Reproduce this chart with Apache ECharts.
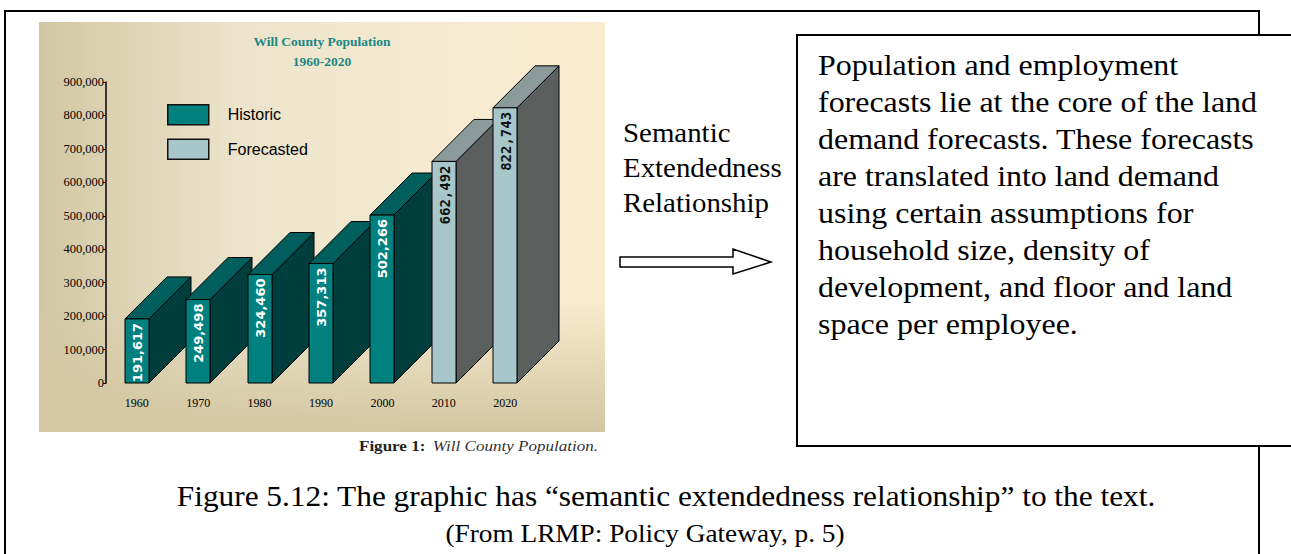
<!DOCTYPE html>
<html>
<head>
<meta charset="utf-8">
<title>Will County Population</title>
<script src="https://cdn.jsdelivr.net/npm/echarts@6/dist/echarts.min.js"></script>
<style>
  html, body { margin: 0; padding: 0; background: #ffffff; }
  #main { width: 1291px; height: 554px; }
</style>
</head>
<body>
<div id="main"></div>
<script>
// ---- data ----
const years = ['1960', '1970', '1980', '1990', '2000', '2010', '2020'];
const population = [191617, 249498, 324460, 357313, 502266, 662492, 822743];
const status = ['Historic', 'Historic', 'Historic', 'Historic', 'Historic', 'Forecasted', 'Forecasted'];
const seriesNames = ['Historic', 'Forecasted'];

const chartTitle = 'Will County Population';
const chartSubtitle = '1960-2020';
const figureLabel = 'Figure 1:';
const figureText = 'Will County Population.';
const linkLines = ['Semantic', 'Extendedness', 'Relationship'];
const bodyLines = [
  'Population and employment',
  'forecasts lie at the core of the land',
  'demand forecasts. These forecasts',
  'are translated into land demand',
  'using certain assumptions for',
  'household size, density of',
  'development, and floor and land',
  'space per employee.'
];
const captionLine1 = 'Figure 5.12: The graphic has \u201csemantic extendedness relationship\u201d to the text.';
const captionLine2 = '(From LRMP: Policy Gateway, p. 5)';

// ---- styles ----
const faces = {
  Historic:   { front: '#00807e', top: '#005f5d', side: '#003e3d', label: '#ffffff',
                font: 'bold 13px DejaVu Sans, sans-serif' },
  Forecasted: { front: '#a8c7cb', top: '#8b9a9a', side: '#5b605f', label: '#111111',
                font: 'bold 14px DejaVu Sans Mono, monospace' }
};
const BAR_W = 24;
const DEPTH = 42;
const serif = 'Liberation Serif, Times New Roman, serif';
const sans = 'Liberation Sans, Arial, sans-serif';

function seriesData(name) {
  return population
    .map((v, i) => [i, v, status[i]])
    .filter(d => d[2] === name)
    .map(d => [d[0], d[1]]);
}

function fmt(v) {
  return Number(v).toLocaleString('en-US');
}

// draws a box-shaped bar: front face, top face, right side face, value label
function boxRenderer(face) {
  return function (params, api) {
    const idx = api.value(0);
    const v = api.value(1);
    const top = api.coord([idx, v]);
    const base = api.coord([idx, 0]);
    const x0 = Math.round(top[0] - BAR_W / 2);
    const x1 = x0 + BAR_W;
    const yt = top[1];
    const yb = base[1];
    const edge = { stroke: '#000', lineWidth: 1 };
    return {
      type: 'group',
      children: [
        { type: 'polygon',
          shape: { points: [[x1, yt], [x1 + DEPTH, yt - DEPTH], [x1 + DEPTH, yb - DEPTH], [x1, yb]] },
          style: Object.assign({ fill: face.side }, edge) },
        { type: 'polygon',
          shape: { points: [[x0, yt], [x0 + DEPTH, yt - DEPTH], [x1 + DEPTH, yt - DEPTH], [x1, yt]] },
          style: Object.assign({ fill: face.top }, edge) },
        { type: 'rect',
          shape: { x: x0, y: yt, width: BAR_W, height: yb - yt },
          style: Object.assign({ fill: face.front }, edge) },
        { type: 'text',
          x: (x0 + x1) / 2 + 0.5, y: yt + 4, rotation: Math.PI / 2,
          style: { text: fmt(v), fill: face.label, font: face.font,
                   align: 'right', verticalAlign: 'middle' } }
      ]
    };
  };
}

const chart = echarts.init(document.getElementById('main'), null, { renderer: 'svg' });

const option = {
  animation: false,
  backgroundColor: '#ffffff',
  title: {
    text: chartTitle,
    subtext: chartSubtitle,
    left: 322,
    top: 34,
    textAlign: 'center',
    itemGap: 6,
    padding: 0,
    textStyle: { fontFamily: serif, fontWeight: 'bold', fontSize: 13.5, color: '#1b8784' },
    subtextStyle: { fontFamily: serif, fontWeight: 'bold', fontSize: 13.5, color: '#1b8784' }
  },
  legend: {
    orient: 'vertical',
    left: 167,
    top: 104,
    padding: 0,
    itemWidth: 41,
    itemHeight: 20,
    itemGap: 13,
    icon: 'rect',
    itemStyle: { borderColor: '#111', borderWidth: 1.5 },
    textStyle: { fontFamily: sans, fontSize: 16, color: '#000', padding: [0, 0, 0, 14] },
    data: seriesNames
  },
  grid: { left: 106, top: 82, width: 430, height: 301, containLabel: false },
  xAxis: {
    type: 'category',
    data: years,
    axisLine: { show: false },
    axisTick: { show: false },
    axisLabel: { margin: 14, fontFamily: serif, fontSize: 12, color: '#000' }
  },
  yAxis: {
    type: 'value',
    min: 0,
    max: 900000,
    interval: 100000,
    splitLine: { show: false },
    axisLine: { show: true, lineStyle: { color: '#000', width: 1.5 } },
    axisTick: { show: true, length: 3, lineStyle: { color: '#000' } },
    axisLabel: { margin: 2, fontFamily: serif, fontSize: 12.5, color: '#000',
                 formatter: v => fmt(v) }
  },
  series: seriesNames.map(name => ({
    name: name,
    type: 'custom',
    renderItem: boxRenderer(faces[name]),
    itemStyle: { color: faces[name].front },
    encode: { x: 0, y: 1 },
    data: seriesData(name),
    z: 5
  })),
  graphic: [
    // outer page frame (its right edge is partly hidden by the text box)
    { type: 'rect', z: -20, shape: { x: 5, y: 11, width: 1254, height: 620 },
      style: { fill: '#ffffff', stroke: '#000', lineWidth: 2 } },
    // chart backdrop
    { type: 'rect', z: -10, shape: { x: 39, y: 22, width: 566, height: 410 },
      style: { fill: { type: 'linear', x: 0, y: 0, x2: 1, y2: 0, colorStops: [
        { offset: 0, color: '#d3c7a3' },
        { offset: 0.35, color: '#ebe3cb' },
        { offset: 0.7, color: '#f6ebd2' },
        { offset: 1, color: '#faebcf' } ] } } },
    { type: 'rect', z: -9, shape: { x: 39, y: 300, width: 566, height: 132 },
      style: { fill: { type: 'linear', x: 0, y: 0, x2: 0, y2: 1, colorStops: [
        { offset: 0, color: 'rgba(211,198,160,0)' },
        { offset: 1, color: 'rgba(211,198,160,1)' } ] } } },
    // figure caption under the chart
    { type: 'text', z: 10, x: 598, y: 446, scaleX: 1.1,
      style: { text: '{b|' + figureLabel + '}  {i|' + figureText + '}',
               align: 'right', verticalAlign: 'middle',
               rich: {
                 b: { fontFamily: serif, fontSize: 15.5, fontWeight: 'bold', fill: '#222' },
                 i: { fontFamily: serif, fontSize: 15.5, fontStyle: 'italic', fill: '#333' }
               } } },
    // relationship label and arrow
    { type: 'text', z: 10, x: 623, y: 115, scaleX: 1.07,
      style: { text: linkLines.join('\n'), fontFamily: serif, fontSize: 27,
               lineHeight: 35, fill: '#000', align: 'left', verticalAlign: 'top' } },
    { type: 'polygon', z: 10,
      shape: { points: [[620, 257], [733, 257], [733, 249], [771, 262], [733, 274], [733, 267], [620, 267]] },
      style: { fill: '#ffffff', stroke: '#000', lineWidth: 1.5 } },
    // text box
    { type: 'rect', z: 10, shape: { x: 797, y: 35, width: 600, height: 411 },
      style: { fill: '#ffffff', stroke: '#000', lineWidth: 2 } },
    { type: 'text', z: 11, x: 818, y: 46, scaleX: 1.065,
      style: { text: bodyLines.join('\n'), fontFamily: serif, fontSize: 30,
               lineHeight: 37, fill: '#000', align: 'left', verticalAlign: 'top' } },
    // page caption
    { type: 'text', z: 10, x: 666, y: 496, scaleX: 1.08,
      style: { text: captionLine1, fontFamily: serif, fontSize: 29, fill: '#000',
               align: 'center', verticalAlign: 'middle' } },
    { type: 'text', z: 10, x: 645, y: 533, scaleX: 1.05,
      style: { text: captionLine2, fontFamily: serif, fontSize: 26, fill: '#000',
               align: 'center', verticalAlign: 'middle' } }
  ]
};

chart.setOption(option);
</script>
</body>
</html>
